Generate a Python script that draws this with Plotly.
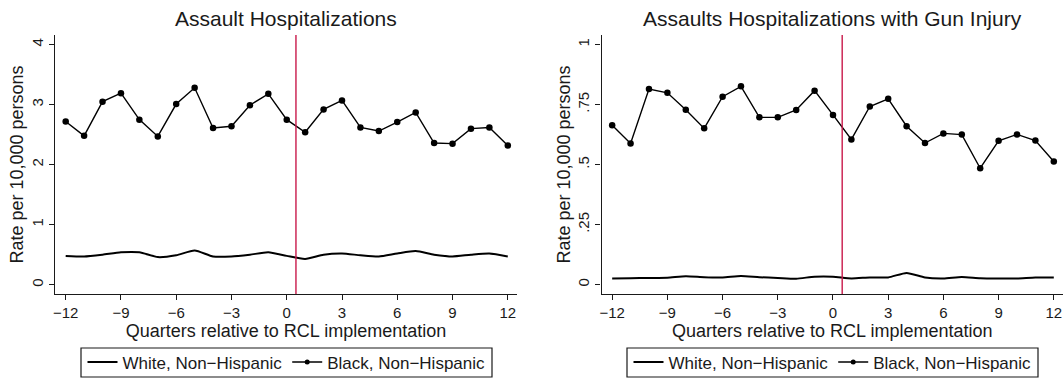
import plotly.graph_objects as go
from plotly.subplots import make_subplots

# Quarters relative to implementation
quarters = list(range(-12, 13))

# Assault hospitalizations, rate per 10,000 persons
assault_white = [0.48, 0.47, 0.50, 0.54, 0.54, 0.46, 0.49, 0.57, 0.47, 0.47, 0.50, 0.54, 0.48,
                 0.43, 0.50, 0.52, 0.49, 0.47, 0.52, 0.56, 0.50, 0.47, 0.50, 0.52, 0.47]
assault_black = [2.72, 2.48, 3.05, 3.19, 2.75, 2.47, 3.01, 3.28, 2.61, 2.64, 2.99, 3.18, 2.75,
                 2.54, 2.92, 3.07, 2.62, 2.56, 2.71, 2.87, 2.36, 2.35, 2.60, 2.62, 2.32]

# Assault hospitalizations with gun injury, rate per 10,000 persons
gun_white = [0.026, 0.027, 0.028, 0.029, 0.035, 0.031, 0.030, 0.036, 0.031, 0.028, 0.025, 0.033, 0.033,
             0.026, 0.030, 0.030, 0.049, 0.030, 0.026, 0.032, 0.027, 0.026, 0.026, 0.030, 0.030]
gun_black = [0.664, 0.588, 0.815, 0.799, 0.729, 0.651, 0.783, 0.826, 0.697, 0.697, 0.728, 0.808, 0.707,
             0.605, 0.742, 0.774, 0.660, 0.590, 0.630, 0.625, 0.485, 0.599, 0.626, 0.600, 0.513]

titles = ["Assault Hospitalizations", "Assaults Hospitalizations with Gun Injury"]
series_names = ["White, Non\u2212Hispanic", "Black, Non\u2212Hispanic"]
x_ticks = [-12, -9, -6, -3, 0, 3, 6, 9, 12]
x_tick_text = [("\u2212" + str(-v)) if v < 0 else str(v) for v in x_ticks]
left_y_ticks = [0, 1, 2, 3, 4]
left_y_text = ["0", "1", "2", "3", "4"]
right_y_ticks = [0, 0.25, 0.5, 0.75, 1]
right_y_text = ["0", ".25", ".5", ".75", "1"]
implementation_x = 0.5

FONT = "Liberation Sans, Arial, Helvetica, sans-serif"
INK = "#1a1a1a"
RED = "#c8184a"
W, H = 1063, 379

fig = make_subplots(rows=1, cols=2, horizontal_spacing=0.08)

panels = [
    (1, assault_white, assault_black, "legend"),
    (2, gun_white, gun_black, "legend2"),
]
for col, white, black, leg in panels:
    fig.add_trace(go.Scatter(
        x=quarters, y=white, mode="lines", name=series_names[0],
        line=dict(color="black", width=2.0, shape="spline", smoothing=0.6),
        legend=leg,
    ), row=1, col=col)
    # markers drawn on the chart, legend entry handled by a smaller-key proxy below
    fig.add_trace(go.Scatter(
        x=quarters, y=black, mode="lines+markers", name=series_names[1],
        line=dict(color="black", width=1.4),
        marker=dict(color="black", size=6.5),
        showlegend=False,
    ), row=1, col=col)
    fig.add_trace(go.Scatter(
        x=[None], y=[None], mode="lines+markers", name=series_names[1],
        line=dict(color="black", width=1.4),
        marker=dict(color="black", size=5),
        legend=leg,
    ), row=1, col=col)

y_dom = [1 - 294 / H, 1 - 35 / H]
axis_common = dict(
    showgrid=False, zeroline=False, showline=True, linecolor=INK, linewidth=1.2,
    ticks="outside", ticklen=5, tickwidth=1.2, tickcolor=INK, automargin=False,
    tickfont=dict(family=FONT, size=15, color=INK),
)
x_title = dict(text="Quarters relative to RCL implementation",
               font=dict(family=FONT, size=18, color=INK), standoff=0)
y_title = dict(text="Rate per 10,000 persons",
               font=dict(family=FONT, size=18, color=INK), standoff=0)

left_dom = [55 / W, 517 / W]
right_dom = [601.5 / W, 1.0]

fig.update_layout(
    xaxis=dict(domain=left_dom, range=[-12.58, 12.5],
               tickvals=x_ticks, ticktext=x_tick_text, title=x_title, **axis_common),
    xaxis2=dict(domain=right_dom, range=[-12.58, 12.5],
                tickvals=x_ticks, ticktext=x_tick_text, title=x_title, **axis_common),
    yaxis=dict(domain=y_dom, range=[-0.155, 4.16], tickvals=left_y_ticks, ticktext=left_y_text,
               tickangle=-90, title=y_title, **axis_common),
    yaxis2=dict(domain=y_dom, range=[-0.039, 1.04], tickvals=right_y_ticks, ticktext=right_y_text,
                tickangle=-90, title=y_title, **axis_common),
)

# Titles above each panel
for dom, text in [(left_dom, titles[0]), (right_dom, titles[1])]:
    fig.add_annotation(x=sum(dom) / 2, y=1 - 18 / H, xref="paper", yref="paper",
                       text=text, showarrow=False, xanchor="center", yanchor="middle",
                       font=dict(family=FONT, size=21, color=INK))

# Implementation marker
for xr, yr in [("x", "y domain"), ("x2", "y2 domain")]:
    fig.add_shape(type="line", xref=xr, yref=yr, x0=implementation_x, x1=implementation_x,
                  y0=0, y1=1, line=dict(color=RED, width=1.4), layer="above")

# Legend frames (pixel boxes under each panel)
legend_boxes = [(81, 492), (627, 1038)]
for x0, x1 in legend_boxes:
    fig.add_shape(type="rect", xref="paper", yref="paper",
                  x0=x0 / W, x1=x1 / W, y0=1 - 377 / H, y1=1 - 348 / H,
                  line=dict(color=INK, width=1.2), fillcolor="rgba(0,0,0,0)", layer="above")

legend_common = dict(
    orientation="h", xanchor="center", yanchor="middle", y=1 - 362.5 / H,
    borderwidth=0, bgcolor="rgba(0,0,0,0)",
    font=dict(family=FONT, size=17, color=INK), itemsizing="trace",
    tracegroupgap=0,
)
fig.update_layout(
    legend=dict(x=sum(legend_boxes[0]) / 2 / W, **legend_common),
    legend2=dict(x=sum(legend_boxes[1]) / 2 / W, **legend_common),
    showlegend=True,
    width=W, height=H,
    margin=dict(l=0, r=0, t=0, b=0, autoexpand=False),
    plot_bgcolor="white", paper_bgcolor="white",
)

fig.write_html("out.html")
